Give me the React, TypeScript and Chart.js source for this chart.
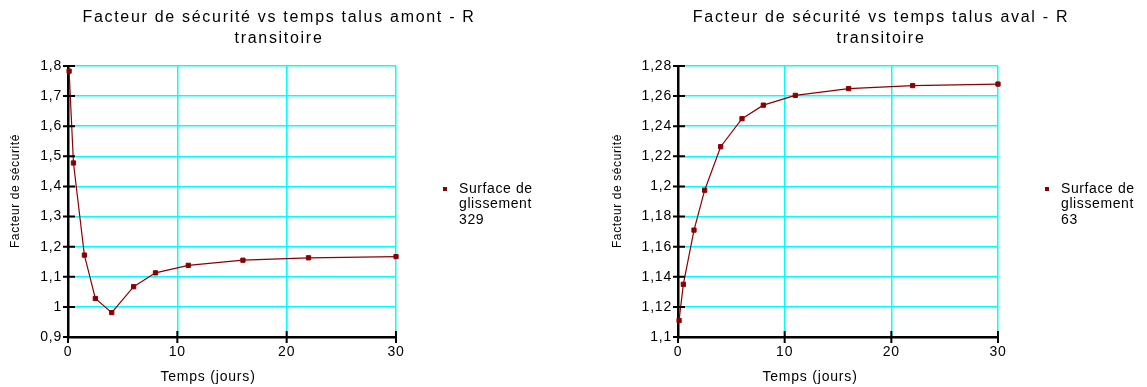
import React, { useEffect, useRef } from 'react';
import { Chart, registerables } from 'chart.js';
Chart.register(...registerables);

// ---- data ----
const timeDays = [0.1, 0.5, 1.5, 2.5, 4, 6, 8, 11, 16, 22, 30];
const amontFS = [1.783, 1.478, 1.172, 1.028, 0.981, 1.067, 1.113, 1.138, 1.155, 1.163, 1.167];
const avalFS = [1.111, 1.135, 1.171, 1.1975, 1.2264, 1.245, 1.254, 1.2605, 1.265, 1.267, 1.268];

const amontTitle = ['Facteur de sécurité vs temps talus amont - R', 'transitoire'];
const avalTitle = ['Facteur de sécurité vs temps talus aval - R', 'transitoire'];
const amontLegend = ['Surface de', 'glissement', '329'];
const avalLegend = ['Surface de', 'glissement', '63'];
const xTitle = 'Temps (jours)';
const yTitle = 'Facteur de sécurité';

const FONT = "'Liberation Sans', Arial, sans-serif";
const LINE = '#8B0000';
const W = 556;
const H = 387;

type Cfg = {
  title: string[];
  legend: string[];
  values: number[];
  yMin: number;
  yMax: number;
  yStep: number;
  plotLeft: number;
};

const fmt = (v: number) => String(parseFloat(Number(v).toFixed(2))).replace('.', ',');

function spaced(ctx: any, px: number) {
  ctx.letterSpacing = `${px}px`;
}

function makeDecor(cfg: Cfg) {
  return {
    id: 'decor',
    beforeDraw(chart: any) {
      spaced(chart.ctx, 0.8);
    },
    afterDraw(chart: any) {
      const ctx: CanvasRenderingContext2D = chart.ctx;
      const xs = chart.scales.x;
      const ys = chart.scales.y;
      ctx.save();
      // crossing tick marks
      ctx.strokeStyle = '#000';
      ctx.lineWidth = 2;
      ctx.beginPath();
      ys.ticks.forEach((t: any) => {
        const py = ys.getPixelForValue(t.value);
        ctx.moveTo(xs.left - 5, py);
        ctx.lineTo(xs.left + 7, py);
      });
      xs.ticks.forEach((t: any) => {
        const px = xs.getPixelForValue(t.value);
        ctx.moveTo(px, ys.bottom - 6);
        ctx.lineTo(px, ys.bottom + 6);
      });
      ctx.stroke();

      ctx.fillStyle = '#000';
      // chart title
      ctx.font = `16px ${FONT}`;
      spaced(ctx, 1.7);
      ctx.textAlign = 'center';
      ctx.textBaseline = 'middle';
      cfg.title.forEach((s, i) => ctx.fillText(s, 279, 18 + i * 20.5));

      // axis titles
      ctx.font = `14px ${FONT}`;
      spaced(ctx, 0.8);
      ctx.fillText(xTitle, 208, 377);
      ctx.save();
      ctx.translate(16, 191);
      ctx.rotate(-Math.PI / 2);
      ctx.font = `12px ${FONT}`;
      spaced(ctx, 0.6);
      ctx.fillText(yTitle, 0, 0);
      ctx.restore();

      // legend
      ctx.fillStyle = LINE;
      ctx.fillRect(443, 187, 4, 4);
      ctx.fillStyle = '#000';
      ctx.font = `14px ${FONT}`;
      spaced(ctx, 0.6);
      ctx.textAlign = 'left';
      cfg.legend.forEach((s, i) => ctx.fillText(s, 459, 189 + i * 15.5));
      ctx.restore();
      spaced(ctx, 0.8);
    },
  };
}

function SlopeChart({ cfg, left }: { cfg: Cfg; left: number }) {
  const ref = useRef<HTMLCanvasElement>(null);
  useEffect(() => {
    if (!ref.current) return;
    const yAxisW = 60;
    const chart = new Chart(ref.current, {
      type: 'line',
      data: {
        datasets: [
          {
            label: cfg.legend.join(' '),
            data: timeDays.map((t, i) => ({ x: t, y: cfg.values[i] })),
            borderColor: LINE,
            backgroundColor: LINE,
            borderWidth: 1.2,
            pointStyle: 'rect',
            pointRadius: 3,
            pointBorderWidth: 1,
            tension: 0,
            clip: false as any,
          },
        ],
      },
      options: {
        animation: false,
        responsive: false,
        layout: {
          padding: { left: cfg.plotLeft - yAxisW, top: 66, right: W - 396, bottom: 10 },
        },
        plugins: { legend: { display: false }, title: { display: false }, tooltip: { enabled: false } },
        scales: {
          x: {
            type: 'linear',
            min: 0,
            max: 30,
            afterFit: (s: any) => { s.height = H - 66 - 10 - 271; },
            ticks: { stepSize: 10, color: '#000', font: { family: FONT, size: 14 }, padding: 7, maxRotation: 0 },
            grid: { color: '#00FFFF', lineWidth: 1.5, drawTicks: false },
            border: { color: '#000', width: 2.5 },
          },
          y: {
            min: cfg.yMin,
            max: cfg.yMax,
            afterFit: (s: any) => { s.width = yAxisW; },
            ticks: {
              stepSize: cfg.yStep,
              color: '#000',
              font: { family: FONT, size: 14 },
              padding: 6,
              callback: (v: any) => fmt(v),
            },
            grid: { color: '#00FFFF', lineWidth: 1.5, drawTicks: false },
            border: { color: '#000', width: 2.5 },
          },
        },
      },
      plugins: [makeDecor(cfg)],
    });
    return () => chart.destroy();
  }, [cfg]);
  return (
    <canvas
      ref={ref}
      width={W}
      height={H}
      style={{ position: 'absolute', left, top: 0, width: W, height: H, display: 'block' }}
    />
  );
}

const amontCfg: Cfg = { title: amontTitle, legend: amontLegend, values: amontFS, yMin: 0.9, yMax: 1.8, yStep: 0.1, plotLeft: 68 };
const avalCfg: Cfg = { title: avalTitle, legend: avalLegend, values: avalFS, yMin: 1.1, yMax: 1.28, yStep: 0.02, plotLeft: 76 };

export default function App() {
  return (
    <div style={{ position: 'absolute', left: 0, top: 0, width: 1147, height: 387, background: '#fff', overflow: 'hidden' }}>
      <SlopeChart cfg={amontCfg} left={0} />
      <SlopeChart cfg={avalCfg} left={602} />
    </div>
  );
}
